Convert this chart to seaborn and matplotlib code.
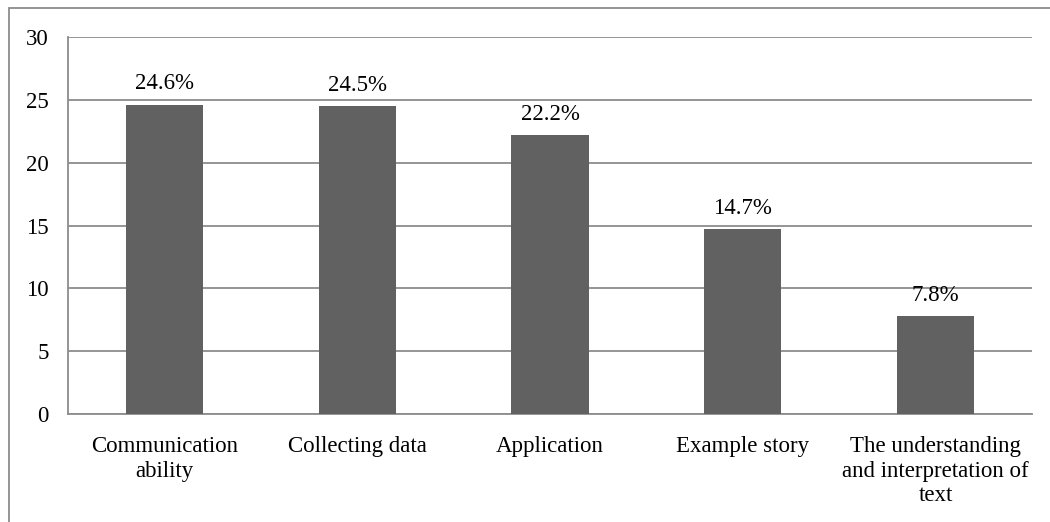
import matplotlib
matplotlib.use("Agg")
import matplotlib.pyplot as plt
import seaborn as sns
import pandas as pd
from matplotlib.patches import Rectangle

categories = ["Communication\nability", "Collecting data", "Application",
              "Example story", "The understanding\nand interpretation of\ntext"]
values = [24.6, 24.5, 22.2, 14.7, 7.8]
value_labels = ["24.6%", "24.5%", "22.2%", "14.7%", "7.8%"]
y_ticks = [0, 5, 10, 15, 20, 25, 30]

sns.set_theme(style="white")
plt.rcParams["font.family"] = ["Liberation Serif", "DejaVu Serif"]
FS = 16.5
plt.rcParams["font.size"] = FS

df = pd.DataFrame({"category": categories, "value": values})

fig = plt.figure(figsize=(10.5, 5.22), dpi=100)
ax = fig.add_axes([68 / 1050, 1 - 414 / 522, (1032 - 68) / 1050, (414 - 37) / 522])

sns.barplot(data=df, x="category", y="value", color="#616161", width=0.4,
            saturation=1, linewidth=0, ax=ax, zorder=3)

ax.set_ylim(0, 30)
ax.set_xlim(-0.5, len(categories) - 0.5)
ax.set_yticks(y_ticks)
ax.set_yticklabels([str(t) for t in y_ticks], fontsize=FS)
ax.set_xlabel("")
ax.set_ylabel("")

# horizontal gridlines
ax.yaxis.grid(True, color="#8c8c8c", linewidth=1.3, zorder=0)
ax.xaxis.grid(False)

# x ticks sit at category boundaries, labels at centers
ax.set_xticks([i + 0.5 for i in range(-1, len(categories))], minor=False)
ax.set_xticklabels([""] * (len(categories) + 1))
ax.set_xticks(range(len(categories)), minor=True)
ax.set_xticklabels(categories, minor=True, fontsize=FS, linespacing=1.21)
ax.tick_params(axis="x", which="minor", length=0, pad=16)
ax.tick_params(axis="x", which="major", length=5, width=1.3, direction="out")
ax.tick_params(axis="y", length=6, width=1.3, direction="out", pad=8)
ax.tick_params(axis="both", which="both", labelcolor="black")
ax.tick_params(axis="both", which="major", color="#8c8c8c")

for side in ["top", "right"]:
    ax.spines[side].set_visible(False)
for side in ["left", "bottom"]:
    ax.spines[side].set_color("#8c8c8c")
    ax.spines[side].set_linewidth(1.3)

for i, (v, lab) in enumerate(zip(values, value_labels)):
    ax.annotate(lab, (i, v), xytext=(0, 7.5), textcoords="offset points",
                ha="center", va="bottom", fontsize=FS, color="black")

# outer chart frame, partially cut off at right and bottom
frame = Rectangle((9 / 1050, -0.1), 1.2, 1 - 8 / 522 + 0.1, transform=fig.transFigure,
                  fill=False, edgecolor="#8c8c8c", linewidth=1.3)
fig.add_artist(frame)

fig.savefig("out.png", dpi=100)
